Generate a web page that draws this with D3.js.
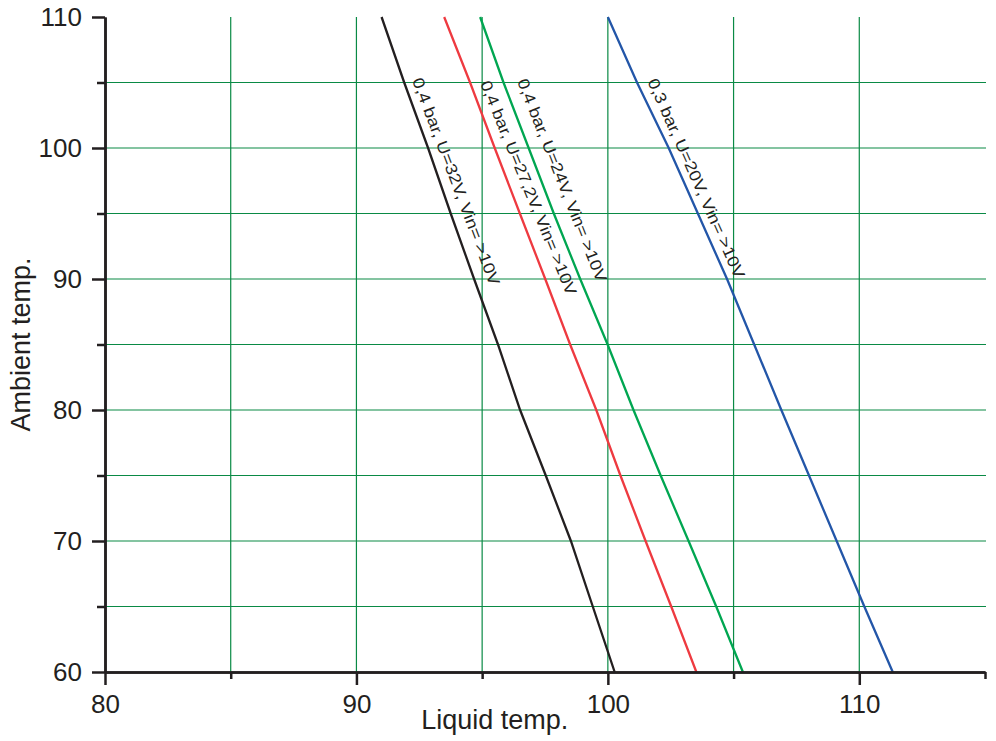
<!DOCTYPE html>
<html lang="en">

<head>
  <meta charset="UTF-8">
  <title>Liquid temp. vs Ambient temp.</title>
  <script src="https://d3js.org/d3.v7.min.js"></script>
  <style>
    body {
      margin: 0;
      background: #fff;
      font-family: "Liberation Sans", Arial, sans-serif;
    }

    .axis path,
    .axis line {
      stroke: #231f20;
      stroke-width: 2.5;
    }

    .axis text {
      font-family: "Liberation Sans", Arial, sans-serif;
      font-size: 26px;
      fill: #231f20;
    }

    .grid {
      stroke: #0a8a45;
      stroke-width: 1.2;
    }

    .axis-title {
      font-size: 27px;
      fill: #231f20;
    }

    .curve {
      fill: none;
      stroke-width: 2.3;
    }

    .curve-label {
      font-size: 16px;
      fill: #231f20;
    }
  </style>
</head>

<body>
  <div id="chart"></div>

  <script>
    // values
    const ambient = [110, 105, 100, 95, 90, 85, 80, 75, 70, 65, 60];
    const liquid32V = [91.0, 91.9, 92.85, 93.75, 94.68, 95.63, 96.51, 97.53, 98.53, 99.4, 100.27];
    const liquid27V = [93.49, 94.52, 95.5, 96.5, 97.51, 98.5, 99.54, 100.5, 101.5, 102.52, 103.52];
    const liquid24V = [94.92, 95.85, 96.85, 97.85, 98.9, 99.99, 101.02, 102.1, 103.21, 104.31, 105.37];
    const liquid20V = [100.0, 101.16, 102.42, 103.58, 104.74, 105.82, 106.9, 108.0, 109.1, 110.2, 111.33];

    const seriesNames = [
      "0,4 bar, U=32V, Vin= >10V",
      "0,4 bar, U=27,2V, Vin= >10V",
      "0,4 bar, U=24V, Vin= >10V",
      "0,3 bar, U=20V, Vin= >10V"
    ];

    const xMajorTicks = [80, 90, 100, 110];
    const xMinorTicks = [85, 95, 105, 115];
    const yMajorTicks = [60, 70, 80, 90, 100, 110];
    const yMinorTicks = [65, 75, 85, 95, 105];
    const xGridValues = [85, 90, 95, 100, 105, 110];
    const yGridValues = [65, 70, 75, 80, 85, 90, 95, 100, 105];

    const xTitle = "Liquid temp.";
    const yTitle = "Ambient temp.";

    const series = [
      { name: seriesNames[0], values: liquid32V, color: "#231f20", from: [92.42, 105.32], to: [95.52, 89.58] },
      { name: seriesNames[1], values: liquid27V, color: "#ee3a40", from: [95.12, 105.09], to: [98.58, 88.84] },
      { name: seriesNames[2], values: liquid24V, color: "#00a651", from: [96.59, 105.25], to: [99.78, 89.84] },
      { name: seriesNames[3], values: liquid20V, color: "#2356a8", from: [101.77, 105.25], to: [105.27, 90.14] }
    ];

    const margin = { top: 17, right: 11, bottom: 69, left: 105 };
    const width = 996 - margin.left - margin.right;
    const height = 741 - margin.top - margin.bottom;

    const svg = d3.select("#chart").append("svg")
      .attr("width", 996)
      .attr("height", 741)
      .append("g")
      .attr("transform", `translate(${margin.left},${margin.top})`);

    const x = d3.scaleLinear().domain([80, 115]).range([0, width]);
    const y = d3.scaleLinear().domain([60, 110]).range([height, 0]);

    // grid
    svg.selectAll(".grid-v")
      .data(xGridValues)
      .enter().append("line")
      .attr("class", "grid")
      .attr("x1", d => x(d)).attr("x2", d => x(d))
      .attr("y1", 0).attr("y2", height);

    svg.selectAll(".grid-h")
      .data(yGridValues)
      .enter().append("line")
      .attr("class", "grid")
      .attr("x1", 0).attr("x2", width + 1)
      .attr("y1", d => y(d)).attr("y2", d => y(d));

    // curves
    const line = d3.line()
      .x(d => x(d[0]))
      .y(d => y(d[1]));

    svg.selectAll(".curve")
      .data(series)
      .enter().append("path")
      .attr("class", "curve")
      .attr("stroke", d => d.color)
      .attr("d", d => line(d.values.map((v, i) => [v, ambient[i]])));

    // labels along the curves
    series.forEach(s => {
      const x0 = x(s.from[0]), y0 = y(s.from[1]);
      const x1 = x(s.to[0]), y1 = y(s.to[1]);
      const angle = Math.atan2(y1 - y0, x1 - x0) * 180 / Math.PI;
      const len = Math.hypot(x1 - x0, y1 - y0);
      svg.append("text")
        .attr("class", "curve-label")
        .attr("transform", `translate(${x0},${y0}) rotate(${angle})`)
        .attr("dy", "0.35em")
        .attr("textLength", len)
        .attr("lengthAdjust", "spacingAndGlyphs")
        .text(s.name);
    });

    // axes
    svg.append("g")
      .attr("class", "axis")
      .attr("transform", `translate(0,${height})`)
      .call(d3.axisBottom(x).tickValues(xMinorTicks).tickSize(7).tickSizeOuter(0).tickFormat(""));

    svg.append("g")
      .attr("class", "axis")
      .attr("transform", `translate(0,${height})`)
      .call(d3.axisBottom(x).tickValues(xMajorTicks).tickSize(13).tickSizeOuter(0).tickPadding(10));

    svg.append("g")
      .attr("class", "axis")
      .call(d3.axisLeft(y).tickValues(yMinorTicks).tickSize(8).tickSizeOuter(0).tickFormat(""));

    svg.append("g")
      .attr("class", "axis")
      .call(d3.axisLeft(y).tickValues(yMajorTicks).tickSize(13).tickSizeOuter(0).tickPadding(10));

    svg.append("text")
      .attr("class", "axis-title")
      .attr("x", x(95.5))
      .attr("y", height + 57)
      .attr("text-anchor", "middle")
      .text(xTitle);

    svg.append("text")
      .attr("class", "axis-title")
      .attr("transform", `translate(-75,${y(85)}) rotate(-90)`)
      .attr("text-anchor", "middle")
      .text(yTitle);
  </script>
</body>

</html>
